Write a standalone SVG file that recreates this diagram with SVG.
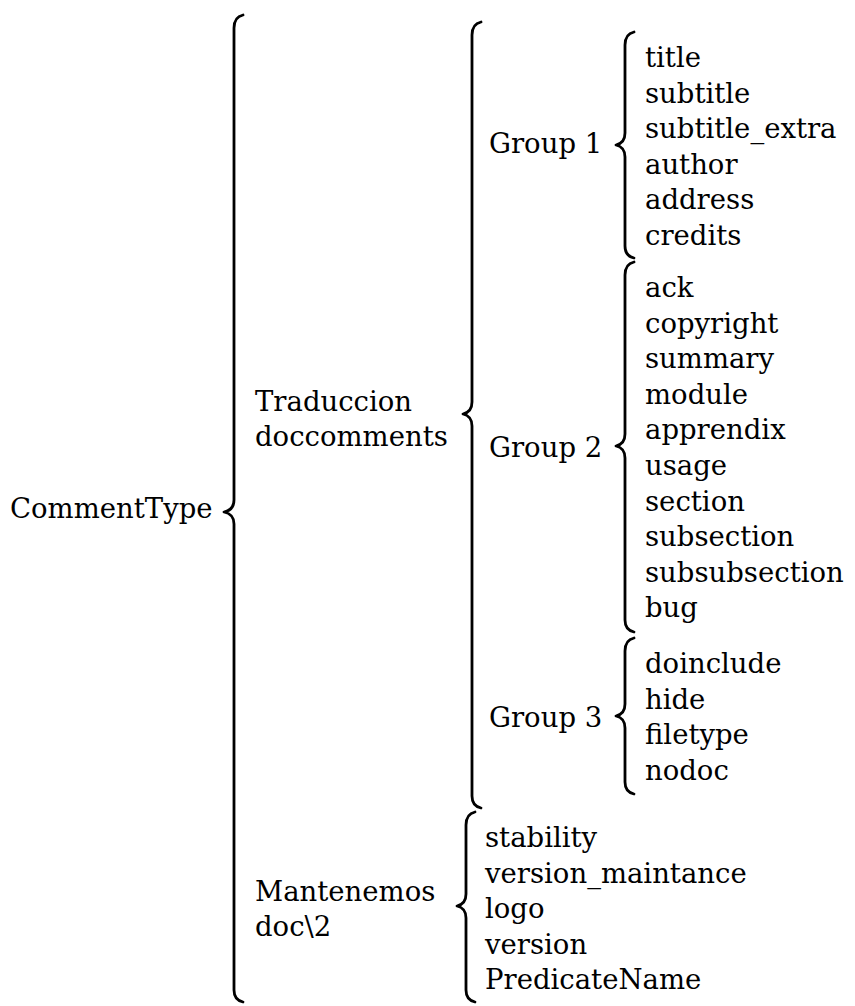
<svg xmlns="http://www.w3.org/2000/svg" width="855" height="1006" viewBox="0 0 855 1006">
<style>
.t{font-family:"DejaVu Serif","Liberation Serif",serif;font-size:27.5px;fill:#000}
.b{fill:none;stroke:#000;stroke-width:2.8;stroke-linecap:round;stroke-linejoin:round}
</style>
<rect width="855" height="1006" fill="#fff"/>
<g id="connectors">
<path class="b" d="M243,15 Q234,17 234,28 L234,500 Q234,510 224,512 Q234,514 234,524 L234,990 Q234,1000 243,1002"/>
<path class="b" d="M481,22 Q472,24 472,35 L472,402 Q472,412 463,414 Q472,416 472,426 L472,796 Q472,806 481,808"/>
<path class="b" d="M475,812 Q466,814 466,825 L466,894 Q466,904 457,906 Q466,908 466,918 L466,990 Q466,1000 475,1002"/>
<path class="b" d="M634,32 Q625,34 625,45 L625,133 Q625,143 616,145 Q625,147 625,157 L625,246 Q625,256 634,258"/>
<path class="b" d="M634,262 Q625,264 625,275 L625,434 Q625,444 616,446 Q625,448 625,458 L625,620 Q625,630 634,632"/>
<path class="b" d="M634,638 Q625,640 625,651 L625,704 Q625,714 616,716 Q625,718 625,728 L625,782 Q625,792 634,794"/>
</g>
<g id="CommentType"><text class="t" x="10" y="518">CommentType</text></g>
<g id="Traduccion"><text class="t" x="255" y="411">Traduccion</text><text class="t" x="255" y="446">doccomments</text></g>
<g id="Mantenemos"><text class="t" x="255" y="901">Mantenemos</text><text class="t" x="255" y="936">doc\2</text></g>
<g id="Group1"><text class="t" x="489" y="153">Group 1</text></g>
<g id="Group2"><text class="t" x="489" y="457">Group 2</text></g>
<g id="Group3"><text class="t" x="489" y="727">Group 3</text></g>
<g id="Group1Items">
<text class="t" x="645" y="67">title</text>
<text class="t" x="645" y="102.6">subtitle</text>
<text class="t" x="645" y="138.2">subtitle_extra</text>
<text class="t" x="645" y="173.8">author</text>
<text class="t" x="645" y="209.4">address</text>
<text class="t" x="645" y="245">credits</text>
</g>
<g id="Group2Items">
<text class="t" x="645" y="297">ack</text>
<text class="t" x="645" y="332.6">copyright</text>
<text class="t" x="645" y="368.2">summary</text>
<text class="t" x="645" y="403.8">module</text>
<text class="t" x="645" y="439.4">apprendix</text>
<text class="t" x="645" y="475">usage</text>
<text class="t" x="645" y="510.6">section</text>
<text class="t" x="645" y="546.2">subsection</text>
<text class="t" x="645" y="581.8">subsubsection</text>
<text class="t" x="645" y="617.4">bug</text>
</g>
<g id="Group3Items">
<text class="t" x="645" y="673">doinclude</text>
<text class="t" x="645" y="708.6">hide</text>
<text class="t" x="645" y="744.2">filetype</text>
<text class="t" x="645" y="779.8">nodoc</text>
</g>
<g id="MantenemosItems">
<text class="t" x="485" y="847">stability</text>
<text class="t" x="485" y="882.6">version_maintance</text>
<text class="t" x="485" y="918.2">logo</text>
<text class="t" x="485" y="953.8">version</text>
<text class="t" x="485" y="989.4">PredicateName</text>
</g>
</svg>
